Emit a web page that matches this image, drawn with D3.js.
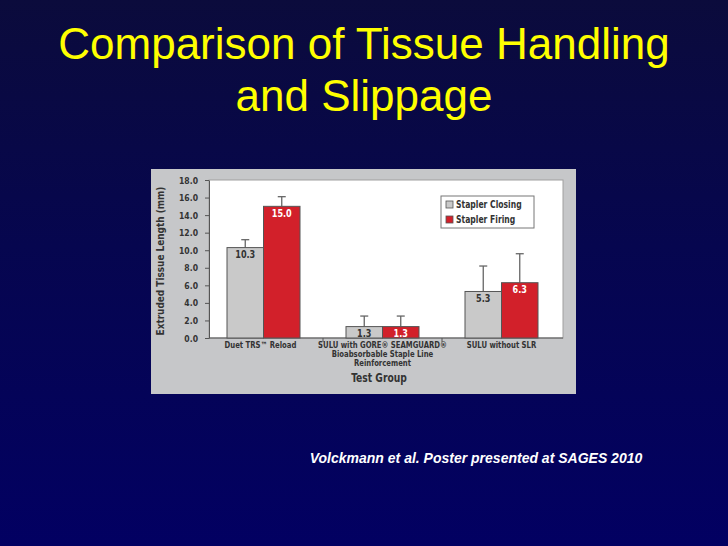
<!DOCTYPE html>
<html><head><meta charset="utf-8">
<script src="https://cdn.jsdelivr.net/npm/d3@7"></script>
<style>html,body{margin:0;padding:0;overflow:hidden;background:#03035e}</style>
</head><body>
<script>
const titleLines = ["Comparison of Tissue Handling", "and Slippage"];
const footnote = "Volckmann et al. Poster presented at SAGES 2010";
const groups = ["Duet TRS\u2122 Reload", "SULU with GORE\u00ae SEAMGUARD\u00ae|Bioabsorbable Staple Line|Reinforcement", "SULU without SLR"];
const seriesNames = ["Stapler Closing", "Stapler Firing"];
const closingValues = [10.3, 1.3, 5.3];
const firingValues = [15.0, 1.3, 6.3];
const closingErrors = [0.9, 1.2, 2.9];
const firingErrors = [1.1, 1.2, 3.3];
const yTicks = [0, 2, 4, 6, 8, 10, 12, 14, 16, 18];
const yTitle = "Extruded Tissue Length (mm)";
const xTitle = "Test Group";

const W = 728, H = 546;
const svg = d3.select("body").append("svg").attr("width", W).attr("height", H);
const defs = svg.append("defs");
const grad = defs.append("linearGradient").attr("id", "bg").attr("x1", 0).attr("y1", 0).attr("x2", 0).attr("y2", 1);
grad.append("stop").attr("offset", "0%").attr("stop-color", "#0b0b3c");
grad.append("stop").attr("offset", "45%").attr("stop-color", "#06064f");
grad.append("stop").attr("offset", "100%").attr("stop-color", "#020062");
svg.append("rect").attr("width", W).attr("height", H).attr("fill", "url(#bg)");

// emulate a condensed face by horizontally compressing text
function condense(sel, f) {
  sel.each(function() {
    const n = this.getComputedTextLength();
    if (n > 0) d3.select(this).attr("textLength", n * f).attr("lengthAdjust", "spacingAndGlyphs");
  });
}

// Title
svg.append("g").selectAll("text").data(titleLines).join("text")
  .attr("x", 364).attr("y", (d, i) => 59 + i * 52)
  .attr("text-anchor", "middle")
  .attr("font-family", "Liberation Sans, Arial, sans-serif")
  .attr("font-size", 44).attr("fill", "#ffff00").text(d => d);

// Footnote
svg.append("text").attr("x", 476).attr("y", 463).attr("text-anchor", "middle")
  .attr("font-family", "Liberation Sans, Arial, sans-serif")
  .attr("font-size", 14).attr("font-weight", "bold").attr("font-style", "italic")
  .attr("fill", "#ffffff").text(footnote);

// Chart panel
svg.append("rect").attr("x", 151).attr("y", 169).attr("width", 425).attr("height", 225).attr("fill", "#c6c7c9");

const plot = {left: 209, right: 563, top: 180, bottom: 338};
svg.append("rect").attr("x", plot.left).attr("y", plot.top)
  .attr("width", plot.right - plot.left).attr("height", plot.bottom - plot.top)
  .attr("fill", "#ffffff").attr("stroke", "#a0a0a0").attr("stroke-width", 1);

const fontC = "DejaVu Sans Condensed, Liberation Sans Narrow, Arial Narrow, sans-serif";

const y = d3.scaleLinear().domain([0, 18]).range([plot.bottom, plot.top]);
const x0 = d3.scaleBand().domain(groups).range([204, 561]).paddingInner(0).paddingOuter(0);
const x1 = d3.scaleBand().domain(seriesNames).range([0, 73]);
const colors = {"Stapler Closing": "#c9c9c9", "Stapler Firing": "#d2202a"};

// Y axis
const yAxis = svg.append("g").attr("transform", `translate(${plot.left},0)`)
  .call(d3.axisLeft(y).tickValues(yTicks).tickFormat(d3.format(".1f")).tickSize(4).tickSizeOuter(0));
yAxis.select(".domain").attr("stroke", "#555");
yAxis.selectAll(".tick line").attr("stroke", "#555");
yAxis.selectAll(".tick text").attr("font-family", fontC).attr("font-weight", "bold")
  .attr("font-size", 9.5).attr("fill", "#333").attr("dx", "-4").call(condense, 0.9);

// X axis line and ticks
const xAxisG = svg.append("g").attr("transform", `translate(0,${plot.bottom})`);
xAxisG.append("line").attr("x1", plot.left).attr("x2", plot.right).attr("stroke", "#555");
xAxisG.selectAll("line.tk").data(groups.slice(1)).join("line").attr("class", "tk")
  .attr("x1", d => x0(d)).attr("x2", d => x0(d)).attr("y1", 0).attr("y2", 4).attr("stroke", "#555");

// Bars
const data = groups.map((g, i) => ({g, vals: [
  {s: seriesNames[0], v: closingValues[i], e: closingErrors[i]},
  {s: seriesNames[1], v: firingValues[i], e: firingErrors[i]}]}));

const gg = svg.append("g").selectAll("g").data(data).join("g")
  .attr("transform", d => `translate(${x0(d.g) + x0.bandwidth() / 2 - 36.5},0)`);

gg.selectAll("g.err").data(d => d.vals).join("g").attr("class", "err").each(function(d) {
  const g = d3.select(this);
  const cx = x1(d.s) + x1.bandwidth() / 2;
  g.append("line").attr("x1", cx).attr("x2", cx).attr("y1", y(d.v)).attr("y2", y(d.v + d.e)).attr("stroke", "#666").attr("stroke-width", 1.3);
  g.append("line").attr("x1", cx - 4).attr("x2", cx + 4).attr("y1", y(d.v + d.e)).attr("y2", y(d.v + d.e)).attr("stroke", "#666").attr("stroke-width", 1.3);
});

gg.selectAll("rect").data(d => d.vals).join("rect")
  .attr("x", d => x1(d.s)).attr("width", x1.bandwidth())
  .attr("y", d => y(d.v)).attr("height", d => y(0) - y(d.v))
  .attr("fill", d => colors[d.s]).attr("stroke", "#555").attr("stroke-width", 1);

gg.selectAll("text.val").data(d => d.vals).join("text").attr("class", "val")
  .attr("x", d => x1(d.s) + x1.bandwidth() / 2).attr("y", d => y(d.v) + 10.5)
  .attr("text-anchor", "middle").attr("font-family", fontC).attr("font-weight", "bold")
  .attr("font-size", 10).attr("fill", d => d.s === seriesNames[1] ? "#ffffff" : "#333")
  .text(d => d3.format(".1f")(d.v)).call(condense, 0.9);

// Category labels: one text element per line
const catLines = [];
groups.forEach(g => g.split("|").forEach((line, i) => catLines.push({g, line, i})));
svg.append("g").selectAll("text").data(catLines).join("text")
  .attr("x", d => x0(d.g) + x0.bandwidth() / 2 + (d.g === groups[0] ? -3 : 0))
  .attr("y", d => 348 + d.i * 9)
  .attr("text-anchor", "middle").attr("font-family", fontC).attr("font-weight", "bold")
  .attr("font-size", 8.5).attr("fill", "#333")
  .text(d => d.line).call(condense, 0.9);

// Axis titles
svg.append("text").attr("x", 379).attr("y", 382).attr("text-anchor", "middle")
  .attr("font-family", fontC).attr("font-weight", "bold").attr("font-size", 12).attr("fill", "#333")
  .text(xTitle).call(condense, 0.85);
svg.append("text").attr("transform", "translate(164,261) rotate(-90)").attr("text-anchor", "middle")
  .attr("font-family", fontC).attr("font-weight", "bold").attr("font-size", 11).attr("fill", "#333")
  .text(yTitle).call(condense, 0.9);

// Legend
const lg = svg.append("g").attr("transform", "translate(441,196)");
lg.append("rect").attr("width", 93).attr("height", 32).attr("fill", "#fff").attr("stroke", "#777");
lg.selectAll("g").data(seriesNames).join("g").attr("transform", (d, i) => `translate(5,${5 + i * 15})`).each(function(d) {
  const g = d3.select(this);
  g.append("rect").attr("width", 7).attr("height", 7).attr("fill", colors[d]).attr("stroke", "#555").attr("stroke-width", 0.8);
  g.append("text").attr("x", 10).attr("y", 7).attr("font-family", fontC).attr("font-weight", "bold")
    .attr("font-size", 10).attr("fill", "#333").text(d).call(condense, 0.85);
});
</script>
</body></html>
